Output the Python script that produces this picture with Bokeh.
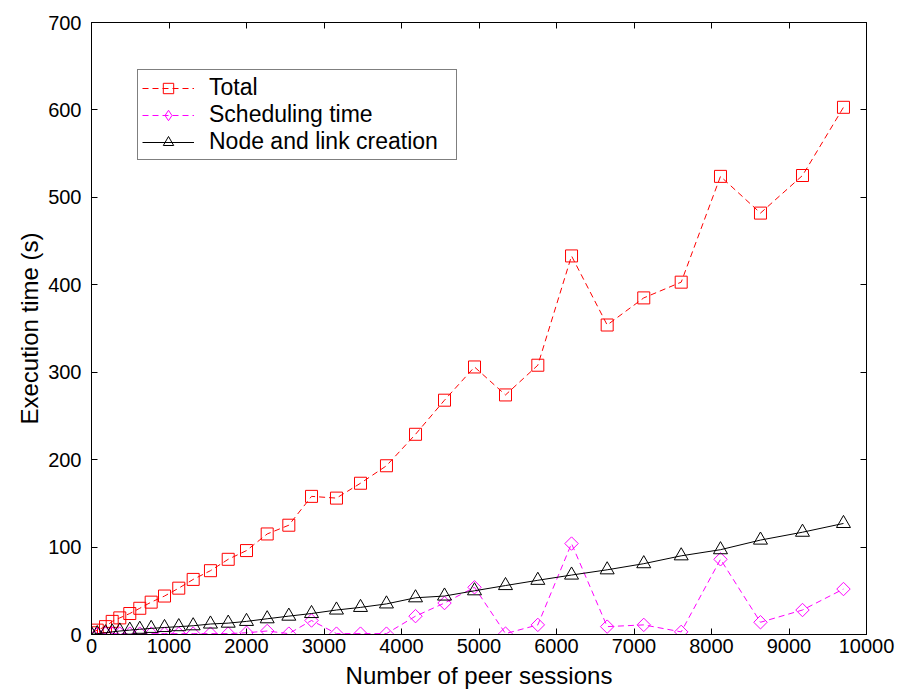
import math
from bokeh.plotting import figure
from bokeh.models import LinearAxis, Range1d, FixedTicker, CustomJSTickFormatter
from bokeh.embed import file_html
from bokeh.resources import INLINE

# ---- data ----
sessions = [0, 74, 181, 267, 365, 494, 623, 770, 942, 1126, 1312, 1535, 1764, 2000,
            2267, 2546, 2839, 3161, 3471, 3806, 4181, 4555, 4942, 5342, 5759, 6194,
            6654, 7126, 7609, 8116, 8632, 9174, 9703]
total = [2, 5, 9, 15, 19, 24, 30, 37, 44, 53, 63, 73, 86, 96, 115, 125, 158, 156, 173,
         193, 229, 268, 306, 274, 308, 433, 354, 385, 403, 524, 482, 525, 603]
scheduling = [0, 0, 1, 1, 1, 1, 1, 1, 1, 1, 1, 1, 1, 2, 4, 1, 16, 1, 1, 1, 21, 36, 54,
              1, 11, 104, 9, 11, 3, 86, 14, 28, 52]
node_link = [0, 1, 2, 3, 4, 5, 6, 7, 8, 9, 10, 12, 13, 15, 18, 21, 24, 28, 31, 35, 42,
             44, 50, 56, 62, 68, 74, 81, 90, 97, 108, 117, 127]
x_ticks = [0, 1000, 2000, 3000, 4000, 5000, 6000, 7000, 8000, 9000, 10000]
y_ticks = [0, 100, 200, 300, 400, 500, 600, 700]

FONT = "Liberation Sans"

p = figure(frame_width=775, frame_height=612,
           x_range=Range1d(0, 10000), y_range=Range1d(0, 700),
           output_backend="svg", toolbar_location=None,
           min_border_left=91, min_border_right=30, min_border_top=22,
           min_border_bottom=58, background_fill_color="white",
           border_fill_color="white")
p.xgrid.visible = False
p.ygrid.visible = False
p.outline_line_color = "black"
p.outline_line_width = 1
p.outline_line_alpha = 1

def style_axis(ax, ticks, show_labels=True):
    ax.ticker = FixedTicker(ticks=ticks)
    ax.major_tick_in = 6
    ax.major_tick_out = 0
    ax.minor_tick_line_color = None
    ax.axis_line_color = "black"
    ax.major_tick_line_color = "black"
    ax.major_label_text_font = FONT
    ax.major_label_text_color = "black"
    ax.major_label_text_font_size = "20px"
    if not show_labels:
        ax.formatter = CustomJSTickFormatter(code="return ''")
        ax.major_label_standoff = 0

style_axis(p.xaxis[0], x_ticks)
style_axis(p.yaxis[0], y_ticks)
p.xaxis[0].major_label_standoff = 4
p.yaxis[0].major_label_standoff = 10

p.xaxis[0].axis_label = "Number of peer sessions"
p.yaxis[0].axis_label = "Execution time (s)"
for ax in (p.xaxis[0], p.yaxis[0]):
    ax.axis_label_text_font = FONT
    ax.axis_label_text_font_size = "24px"
    ax.axis_label_text_font_style = "normal"
    ax.axis_label_text_color = "black"
p.xaxis[0].axis_label_standoff = 6
p.yaxis[0].axis_label_standoff = 2

top_ax = LinearAxis()
style_axis(top_ax, x_ticks, show_labels=False)
p.add_layout(top_ax, "above")
right_ax = LinearAxis()
style_axis(right_ax, y_ticks, show_labels=False)
p.add_layout(right_ax, "right")

# ---- series ----
p.line(sessions, total, line_color="#FF0000", line_width=1, line_dash="6 4",
       legend_label="Total")
p.scatter(sessions, total, marker="square", size=12, line_color="#FF0000",
          fill_color=None, line_width=1, legend_label="Total")

p.line(sessions, scheduling, line_color="#FF00FF", line_width=1, line_dash="6 4",
       legend_label="Scheduling time")
p.scatter(sessions, scheduling, marker="square", size=9.5, angle=math.pi / 4,
          line_color="#FF00FF", fill_color=None, line_width=1)
# legend-only diamond glyph (hidden in the plot area)
p.scatter(sessions, scheduling, marker="diamond", size=15, line_color="#FF00FF",
          fill_color=None, line_width=1, legend_label="Scheduling time",
          visible=False)

p.line(sessions, node_link, line_color="black", line_width=1,
       legend_label="Node and link creation")
p.scatter(sessions, node_link, marker="triangle", size=14, line_color="black",
          fill_color=None, line_width=1, legend_label="Node and link creation")

lg = p.legend[0]
lg.location = (46, 474)
lg.label_text_font = FONT
lg.label_text_font_size = "23px"
lg.label_text_color = "black"
lg.border_line_color = "black"
lg.border_line_width = 1
lg.background_fill_color = "white"
lg.background_fill_alpha = 1
lg.padding = 4
lg.spacing = 0
lg.margin = 0
lg.label_height = 26
lg.label_width = 243
lg.glyph_height = 26
lg.glyph_width = 52
lg.label_standoff = 15

open("out.html", "w").write(file_html(p, INLINE))
